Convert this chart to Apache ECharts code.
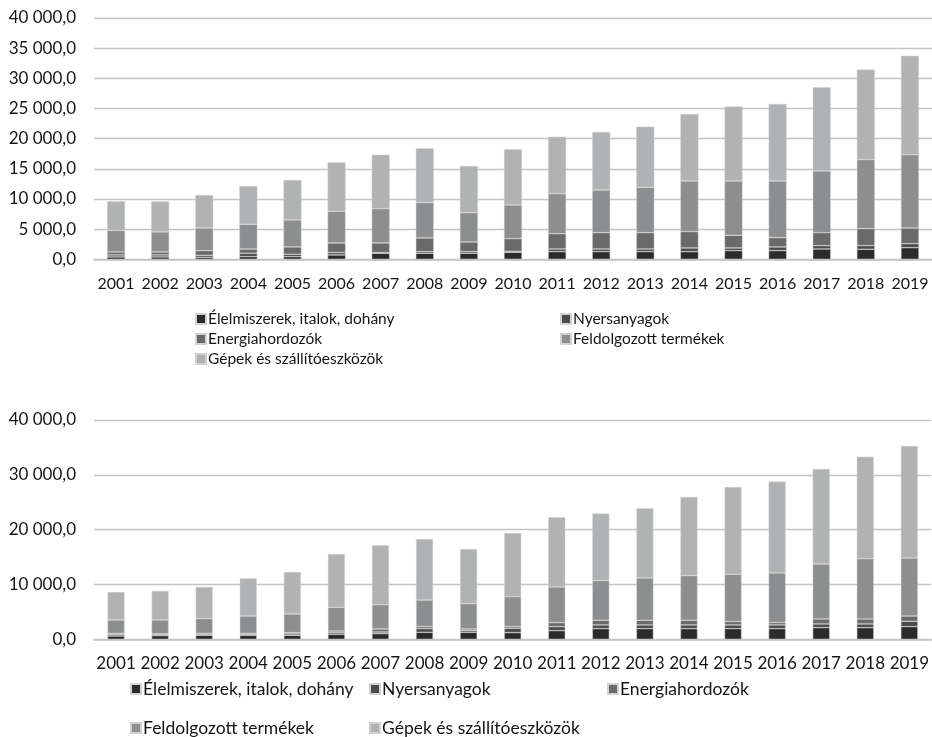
<!DOCTYPE html>
<html><head><meta charset="utf-8">
<script src="https://cdn.jsdelivr.net/npm/echarts@6/dist/echarts.min.js"></script>
<style>html,body{margin:0;padding:0;background:#fff}#c{width:932px;height:737px}</style>
</head><body><div id="c"></div>
<script>
const years = ['2001','2002','2003','2004','2005','2006','2007','2008','2009','2010','2011','2012','2013','2014','2015','2016','2017','2018','2019'];
const names = ['Élelmiszerek, italok, dohány','Nyersanyagok','Energiahordozók','Feldolgozott termékek','Gépek és szállítóeszközök'];

// top chart
const topFood   = [390,390,330,440,440,720,1000,1000,1000,1160,1270,1270,1270,1270,1440,1440,1710,1660,1930];
const topNyers  = [330,330,330,550,390,390,110,270,270,170,440,440,440,610,440,610,550,610,660];
const topEnerg  = [500,500,770,720,1220,1600,1600,2270,1600,2100,2540,2710,2710,2710,2100,1550,2160,2820,2600];
const topFeld   = [3580,3320,3760,4090,4480,5250,5690,5860,4860,5580,6630,7070,7510,8400,9010,9390,10220,11440,12150];
const topGepek  = [4810,5070,5470,6350,6630,8120,8950,9000,7740,9230,9450,9610,10060,11100,12320,12760,13870,14920,16410];

// bottom chart
const botFood   = [600,670,730,730,730,910,1030,1280,1280,1220,1580,1950,1950,1950,1950,1950,2130,2130,2310];
const botNyers  = [250,150,180,180,250,300,300,670,300,790,730,670,670,670,670,670,670,670,970];
const botEnerg  = [250,180,180,180,240,300,550,360,300,300,730,850,850,850,610,430,910,910,970];
const botFeld   = [2430,2530,2680,3160,3400,4320,4440,4860,4620,5470,6510,7240,7720,8150,8630,9060,10030,11000,10580];
const botGepek  = [5110,5290,5780,6870,7660,9730,10820,11130,9970,11610,12710,12220,12710,14350,15930,16660,17330,18600,20430];

const colors = ['#2b2b2b','#4b4b4b','#6a6a6a','#8d8e90','#b1b2b4'];
const font = 'Lato, "Open Sans", sans-serif';
const txt = '#151515';

function fmt(v){
  const s = Math.round(v).toString().replace(/\B(?=(\d{3})+(?!\d))/g,' ');
  return s + ',0';
}

const topData = [topFood, topNyers, topEnerg, topFeld, topGepek];
const botData = [botFood, botNyers, botEnerg, botFeld, botGepek];

const series = [];
topData.forEach((d,i)=>series.push({
  name: names[i], type:'bar', stack:'top', xAxisIndex:0, yAxisIndex:0, data:d, barWidth:18,
  itemStyle:{color:colors[i], borderColor:'#d2d2d2', borderWidth:0.5}, silent:true
}));
botData.forEach((d,i)=>series.push({
  name: names[i], type:'bar', stack:'bot', xAxisIndex:1, yAxisIndex:1, data:d, barWidth:17,
  itemStyle:{color:colors[i], borderColor:'#d2d2d2', borderWidth:0.5}, silent:true
}));

function leg(name, left, top, size){
  return {data:[name], left:left, top:top, itemWidth:10, itemHeight:10, itemGap:0, icon:'rect',
    selectedMode:false, padding:0,
    textStyle:{fontFamily:font, fontSize:size, color:txt, padding:[0,0,0,-3]}};
}

const option = {
  animation:false,
  grid:[
    {left:94, top:18, width:840, height:241.3},
    {left:94, top:420, width:840, height:219.3}
  ],
  xAxis:[
    {type:'category', gridIndex:0, data:years, axisTick:{show:false},
     axisLine:{lineStyle:{color:'#c4c4c4', width:1.5}},
     axisLabel:{fontFamily:font, fontSize:16, color:txt, margin:17, interval:0}},
    {type:'category', gridIndex:1, data:years, axisTick:{show:false},
     axisLine:{lineStyle:{color:'#c4c4c4', width:1.5}},
     axisLabel:{fontFamily:font, fontSize:17, color:txt, margin:16, interval:0}}
  ],
  yAxis:[
    {type:'value', gridIndex:0, min:0, max:40000, interval:5000,
     axisLine:{show:false}, axisTick:{show:false},
     splitLine:{lineStyle:{color:'#c4c4c4', width:1.3}},
     axisLabel:{fontFamily:font, fontSize:17, color:txt, margin:18, formatter:fmt}},
    {type:'value', gridIndex:1, min:0, max:40000, interval:10000,
     axisLine:{show:false}, axisTick:{show:false},
     splitLine:{lineStyle:{color:'#c4c4c4', width:1.3}},
     axisLabel:{fontFamily:font, fontSize:17, color:txt, margin:18, formatter:fmt}}
  ],
  legend:[
    leg(names[0],195,311,15.5),
    leg(names[1],560,311,15.5),
    leg(names[2],195,331,15.5),
    leg(names[3],560,331,15.5),
    leg(names[4],195,351,15.5),
    leg(names[0],130,680,17.5),
    leg(names[1],369,680,17.5),
    leg(names[2],607,680,17.5),
    leg(names[3],130,719,17.5),
    leg(names[4],369,719,17.5)
  ],
  series: series
};
echarts.init(document.getElementById('c')).setOption(option);
</script></body></html>
